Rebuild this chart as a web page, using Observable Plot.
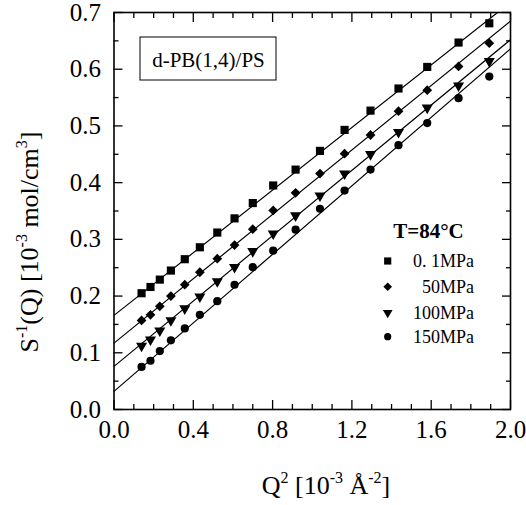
<!DOCTYPE html>
<html>
<head>
<meta charset="utf-8">
<script src="https://cdn.jsdelivr.net/npm/d3@7"></script>
<script src="https://cdn.jsdelivr.net/npm/@observablehq/plot@0.6"></script>
<style>
  html, body { margin: 0; padding: 0; background: #fff; }
  #chart { width: 526px; height: 505px; }
</style>
</head>
<body>
<div id="chart"></div>
<script>
// Q^2 [10^-3 Å^-2]
const q2 = [0.139, 0.184, 0.231, 0.287, 0.357, 0.433, 0.521, 0.608, 0.700, 0.803, 0.916, 1.039, 1.163, 1.294, 1.435, 1.580, 1.738, 1.893];
// S^-1(Q) [10^-3 mol/cm^3]
const s01MPa  = [0.205, 0.216, 0.229, 0.245, 0.265, 0.286, 0.312, 0.337, 0.364, 0.395, 0.423, 0.456, 0.493, 0.527, 0.566, 0.604, 0.647, 0.681];
const s50MPa  = [0.157, 0.167, 0.182, 0.200, 0.220, 0.242, 0.266, 0.290, 0.318, 0.351, 0.382, 0.416, 0.451, 0.484, 0.526, 0.563, 0.605, 0.646];
const s100MPa = [0.112, 0.123, 0.139, 0.157, 0.178, 0.199, 0.226, 0.251, 0.279, 0.310, 0.342, 0.377, 0.416, 0.450, 0.489, 0.532, 0.571, 0.614];
const s150MPa = [0.075, 0.086, 0.103, 0.122, 0.143, 0.167, 0.191, 0.220, 0.251, 0.280, 0.317, 0.354, 0.386, 0.423, 0.466, 0.505, 0.549, 0.587];
const seriesNames = ["0. 1MPa", "50MPa", "100MPa", "150MPa"];
const seriesSymbols = ["square", "diamond2", "triangle", "circle"];
// linear fit lines (intercept, slope)
const fitIntercept = [0.166, 0.117, 0.076, 0.032];
const fitSlope = [0.276, 0.284, 0.288, 0.302];
const xMajorTicks = [0, 0.4, 0.8, 1.2, 1.6, 2.0];
const xMinorTicks = [0.1, 0.2, 0.3, 0.5, 0.6, 0.7, 0.9, 1.0, 1.1, 1.3, 1.4, 1.5, 1.7, 1.8, 1.9];
const yMajorTicks = [0, 0.1, 0.2, 0.3, 0.4, 0.5, 0.6, 0.7];
const yMinorTicks = [0.05, 0.15, 0.25, 0.35, 0.45, 0.55, 0.65];

const allSeries = [s01MPa, s50MPa, s100MPa, s150MPa];
const points = [];
allSeries.forEach((vals, si) => vals.forEach((v, i) => points.push({x: q2[i], y: v, s: si})));
const fitLines = [];
fitIntercept.forEach((a, si) => {
  [0, 2].forEach(x => fitLines.push({x, y: a + fitSlope[si] * x, s: si}));
});

const font = "'Liberation Serif', 'Times New Roman', serif";
const symR = [4.6, 4.4, 4.1, 4.1];

const marks = [
  Plot.axisX({ticks: xMinorTicks, tickSize: -5, text: null, strokeWidth: 1.3}),
  Plot.axisX({ticks: xMajorTicks, tickSize: -9, tickPadding: 20, tickFormat: d => d.toFixed(1), strokeWidth: 1.3}),
  Plot.axisX({anchor: "top", ticks: xMinorTicks, tickSize: -5, text: null, strokeWidth: 1.3}),
  Plot.axisX({anchor: "top", ticks: xMajorTicks, tickSize: -9, text: null, strokeWidth: 1.3}),
  Plot.axisY({ticks: yMinorTicks, tickSize: -5, text: null, strokeWidth: 1.3}),
  Plot.axisY({ticks: yMajorTicks, tickSize: -9, tickPadding: 22, tickFormat: d => d.toFixed(1), strokeWidth: 1.3}),
  Plot.axisY({anchor: "right", ticks: yMinorTicks, tickSize: -5, text: null, strokeWidth: 1.3}),
  Plot.axisY({anchor: "right", ticks: yMajorTicks, tickSize: -9, text: null, strokeWidth: 1.3}),
  Plot.frame({stroke: "black", strokeWidth: 1.6}),
];
seriesNames.forEach((name, si) => {
  marks.push(Plot.line(fitLines.filter(d => d.s === si), {x: "x", y: "y", stroke: "black", strokeWidth: 1.2, clip: true}));
});
seriesNames.forEach((name, si) => {
  marks.push(Plot.dot(points.filter(d => d.s === si), {
    x: "x", y: "y", symbol: () => seriesSymbols[si], r: symR[si],
    fill: "black", stroke: "none", rotate: si === 2 ? 180 : 0
  }));
});

const svgEl = Plot.plot({
  width: 526, height: 505,
  marginLeft: 113.5, marginRight: 16, marginTop: 12, marginBottom: 96,
  style: {fontFamily: font, fontSize: "25px", color: "black", background: "white", overflow: "visible"},
  x: {domain: [0, 2], label: null},
  y: {domain: [0, 0.7], label: null},
  symbol: {type: "identity"},
  marks
});
document.getElementById("chart").appendChild(svgEl);

const svg = d3.select(svgEl);
// axis labels
const xl = svg.append("text").attr("x", 326).attr("y", 494).attr("text-anchor", "middle")
  .attr("font-family", font).attr("font-size", 26).attr("fill", "black");
xl.append("tspan").text("Q");
xl.append("tspan").attr("dy", -11).attr("font-size", 16).text("2");
xl.append("tspan").attr("dy", 11).text(" [10");
xl.append("tspan").attr("dy", -11).attr("font-size", 16).text("-3");
xl.append("tspan").attr("dy", 11).text(" Å");
xl.append("tspan").attr("dy", -11).attr("font-size", 16).text("-2");
xl.append("tspan").attr("dy", 11).text("]");

const yl = svg.append("text").attr("transform", "translate(38,242) rotate(-90)").attr("text-anchor", "middle")
  .attr("font-family", font).attr("font-size", 26).attr("fill", "black");
yl.append("tspan").text("S");
yl.append("tspan").attr("dy", -11).attr("font-size", 16).text("-1");
yl.append("tspan").attr("dy", 11).text("(Q) [10");
yl.append("tspan").attr("dy", -11).attr("font-size", 16).text("-3");
yl.append("tspan").attr("dy", 11).text(" mol/cm");
yl.append("tspan").attr("dy", -11).attr("font-size", 16).text("3");
yl.append("tspan").attr("dy", 11).text("]");

// annotation box
svg.append("rect").attr("x", 140).attr("y", 37).attr("width", 136).attr("height", 43)
  .attr("fill", "white").attr("stroke", "black").attr("stroke-width", 1);
svg.append("text").attr("x", 208.5).attr("y", 66.5).attr("text-anchor", "middle")
  .attr("font-family", font).attr("font-size", 21).attr("fill", "black").text("d-PB(1,4)/PS");

// legend
svg.append("text").attr("x", 428.5).attr("y", 237.5).attr("text-anchor", "middle")
  .attr("font-family", font).attr("font-size", 21).attr("font-weight", "bold").attr("fill", "black").text("T=84°C");
const legY = [261, 286.7, 312.7, 336.7];
const d3Sym = {square: d3.symbolSquare, diamond2: d3.symbolDiamond2, triangle: d3.symbolTriangle, circle: d3.symbolCircle};
seriesNames.forEach((name, si) => {
  const r = symR[si] * 0.88;
  svg.append("path")
    .attr("d", d3.symbol(d3Sym[seriesSymbols[si]], Math.PI * r * r)())
    .attr("transform", `translate(387.7,${legY[si]}) rotate(${si === 2 ? 180 : 0})`)
    .attr("fill", "black");
  svg.append("text").attr("x", 474).attr("y", legY[si] + 6).attr("text-anchor", "end")
    .attr("font-family", font).attr("font-size", 18).attr("fill", "black")
    .text(name);
});
</script>
</body>
</html>
